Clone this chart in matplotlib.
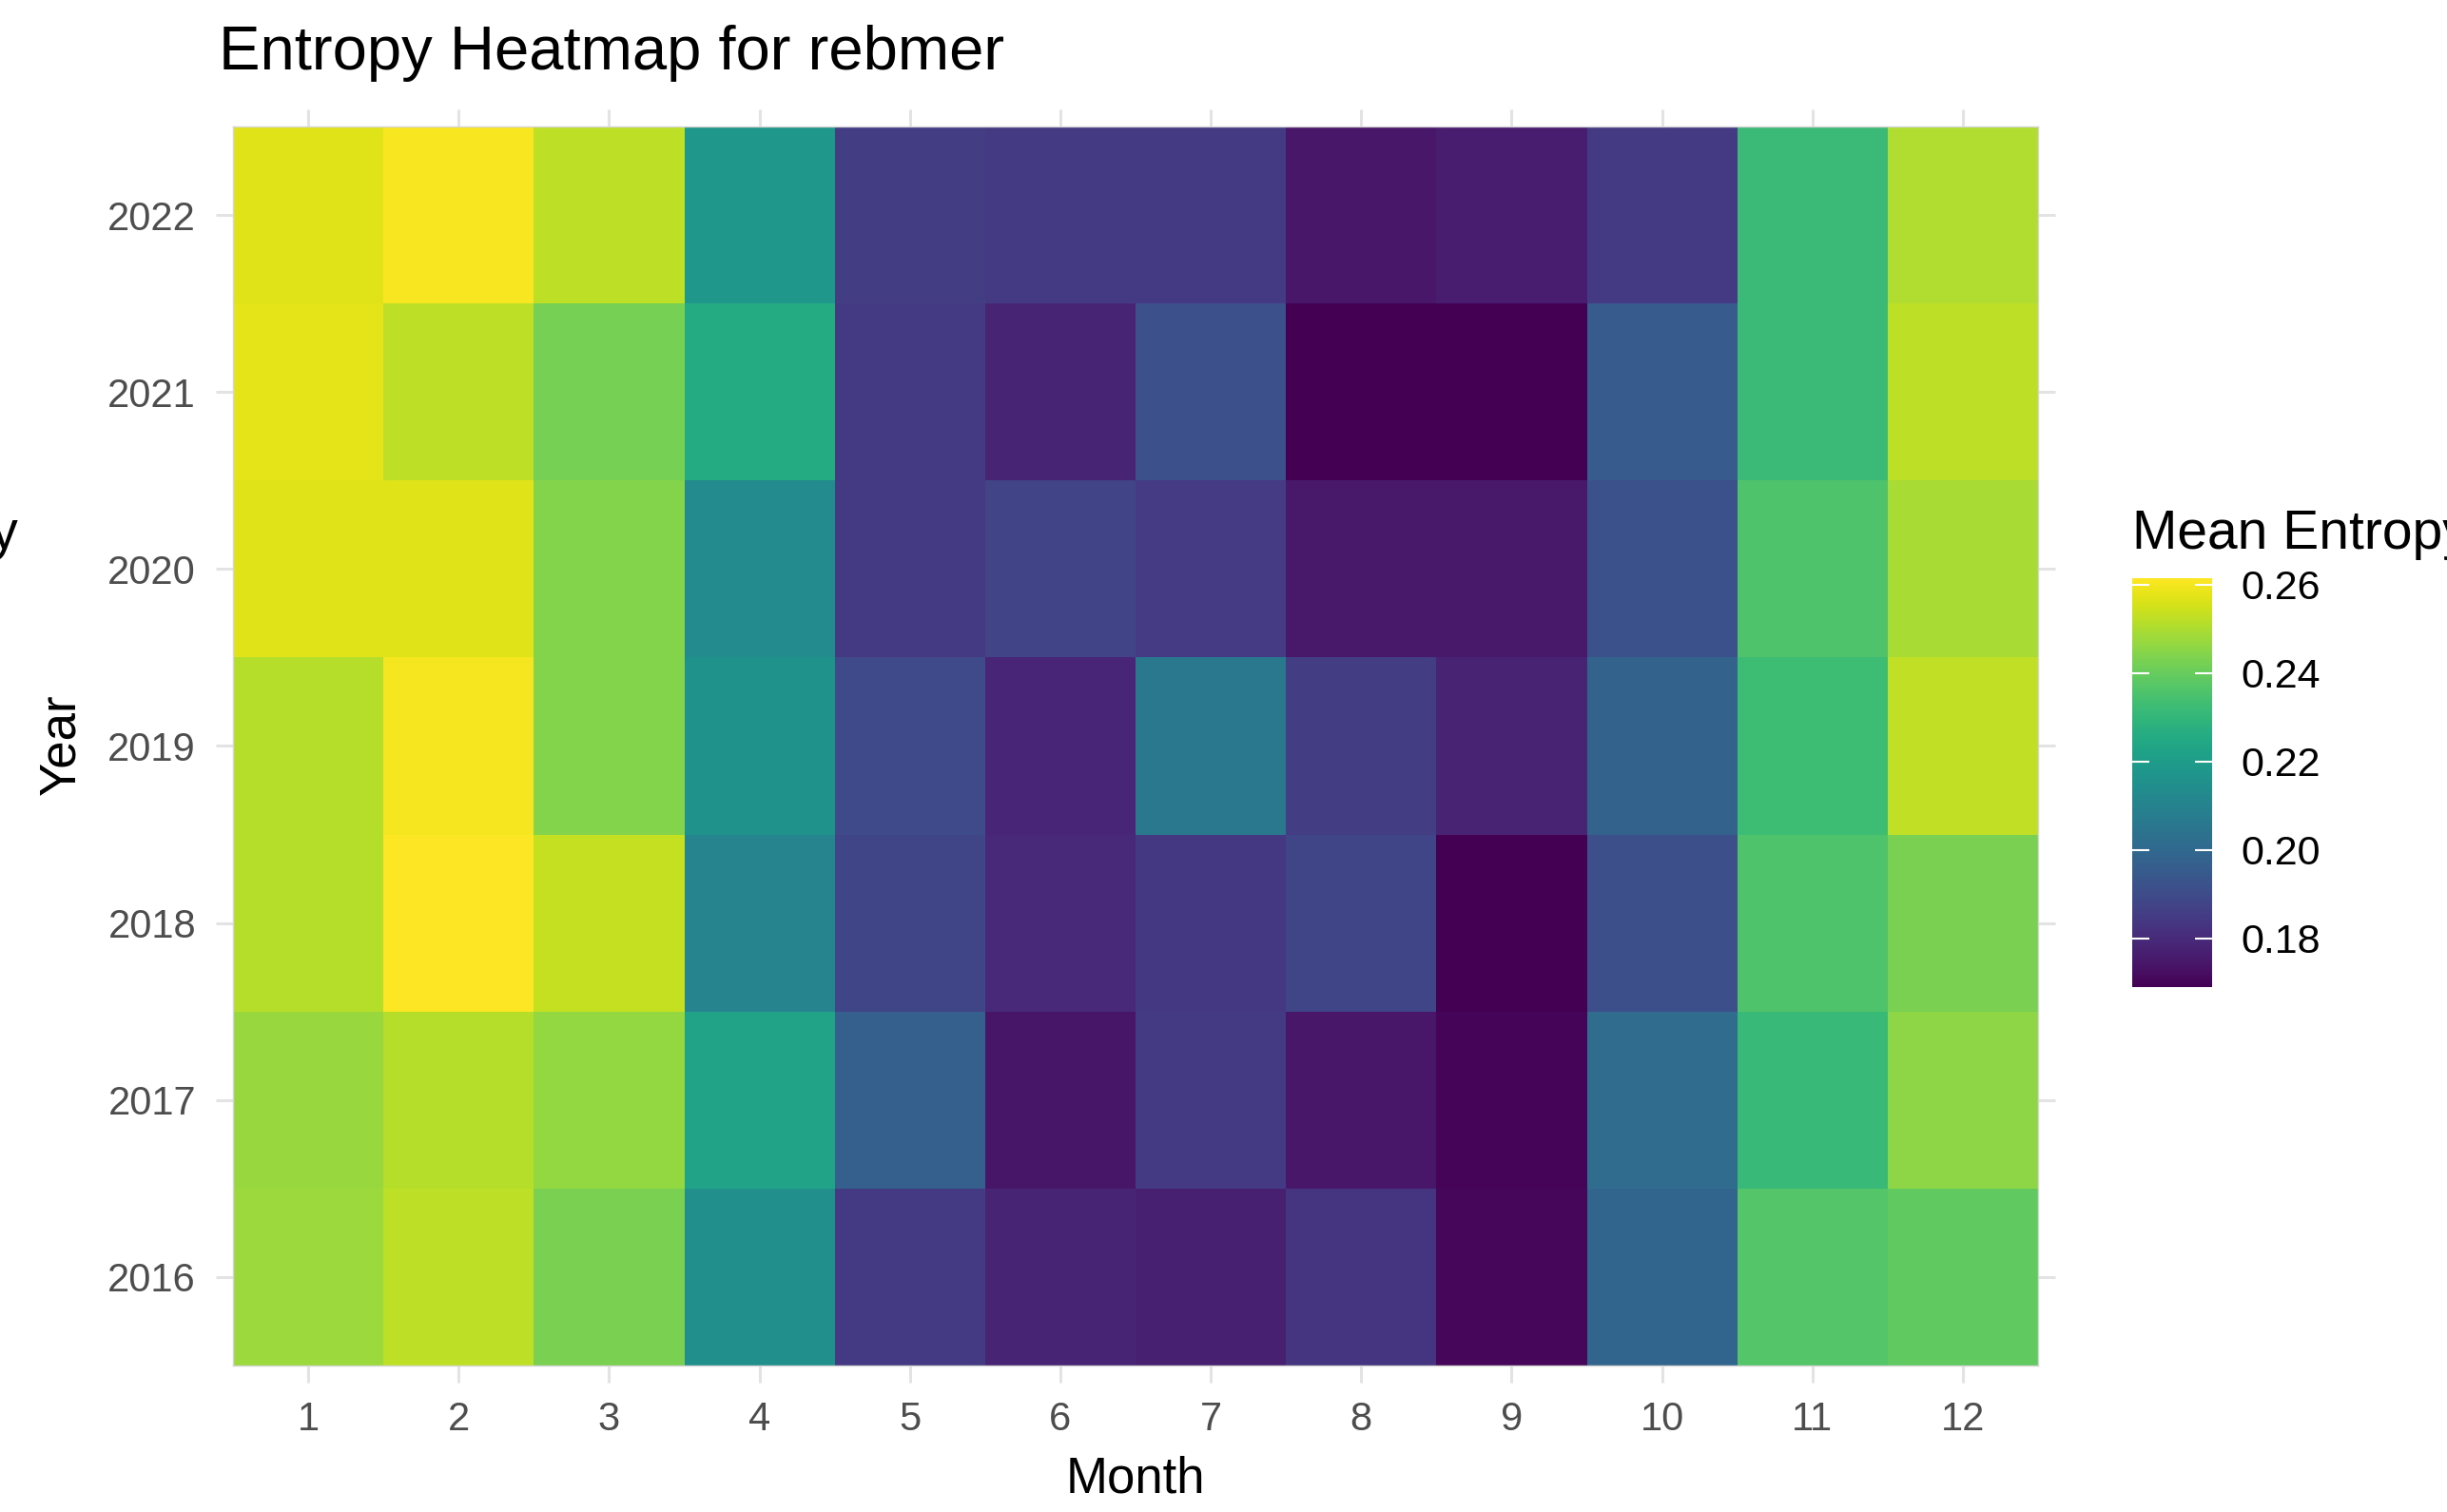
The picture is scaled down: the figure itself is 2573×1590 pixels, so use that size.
import matplotlib
matplotlib.use("Agg")
import matplotlib.pyplot as plt
import numpy as np

plt.rcParams["font.family"] = ["Liberation Sans", "DejaVu Sans"]

# Monthly mean entropy per year
months = list(range(1, 13))
years = [2016, 2017, 2018, 2019, 2020, 2021, 2022]

entropy_2016 = [0.2475, 0.2522, 0.2429, 0.2152, 0.1847, 0.1782, 0.1773, 0.1833, 0.1708, 0.1986, 0.2365, 0.2388]
entropy_2017 = [0.2471, 0.2512, 0.2466, 0.2226, 0.1967, 0.1741, 0.1847, 0.1745, 0.1699, 0.2013, 0.2314, 0.2457]
entropy_2018 = [0.2512, 0.2614, 0.2531, 0.2106, 0.1879, 0.1792, 0.1838, 0.1879, 0.1690, 0.1912, 0.2355, 0.2429]
entropy_2019 = [0.2512, 0.2600, 0.2443, 0.2157, 0.1898, 0.1787, 0.2060, 0.1856, 0.1778, 0.1976, 0.2323, 0.2526]
entropy_2020 = [0.2568, 0.2568, 0.2443, 0.2129, 0.1847, 0.1875, 0.1852, 0.1750, 0.1750, 0.1921, 0.2355, 0.2494]
entropy_2021 = [0.2577, 0.2522, 0.2420, 0.2254, 0.1847, 0.1782, 0.1916, 0.1690, 0.1690, 0.1953, 0.2318, 0.2522]
entropy_2022 = [0.2568, 0.2605, 0.2522, 0.2180, 0.1856, 0.1847, 0.1847, 0.1745, 0.1764, 0.1847, 0.2318, 0.2503]

cbar_ticks = [0.18, 0.20, 0.22, 0.24, 0.26]

grid = np.array([entropy_2016, entropy_2017, entropy_2018, entropy_2019,
                 entropy_2020, entropy_2021, entropy_2022])

W, H = 2573, 1590
fig = plt.figure(figsize=(W / 100, H / 100), dpi=100)
fig.patch.set_facecolor("white")

ax = fig.add_axes([245 / W, 1 - 1436 / H, 1898 / W, 1303 / H])
x_edges = np.arange(len(months) + 1) + 0.5
y_edges = np.arange(years[0], years[-1] + 2) - 0.5
mesh = ax.pcolormesh(x_edges, y_edges, grid, cmap="viridis",
                     vmin=grid.min(), vmax=grid.max())

ax.set_xlim(x_edges[0], x_edges[-1])
ax.set_ylim(y_edges[0], y_edges[-1])
ax.set_xticks(months)
ax.set_xticklabels([str(m) for m in months])
ax.set_yticks(years)
ax.set_yticklabels([str(y) for y in years])
ax.tick_params(axis="both", which="major", direction="out", length=13, width=2.2,
               color="#e3e3e3", labelcolor="#4d4d4d", labelsize=30,
               top=True, right=True, labeltop=False, labelright=False)
ax.tick_params(axis="x", pad=14)
ax.tick_params(axis="y", pad=15)
for sp in ax.spines.values():
    sp.set_color("#d6d6d6")
    sp.set_linewidth(1.0)

fig.text(230 / W, 1 - 73 / H, "Entropy Heatmap for rebmer", fontsize=47,
         ha="left", va="baseline", color="black")
fig.text(1194 / W, 1 - 1556 / H, "Month", fontsize=38, ha="center", va="center")
fig.text(64 / W, 1 - 783 / H, "Year", fontsize=38, ha="center", va="center",
         rotation=90)

# Colour bar
cax = fig.add_axes([2242 / W, 1 - 1038 / H, 84 / W, 430 / H])
cbar = fig.colorbar(mesh, cax=cax, ticks=cbar_ticks)
cbar.outline.set_visible(False)
cax.tick_params(direction="in", length=13, width=1.5, color="white",
                left=True, right=True, labelsize=31, labelcolor="black", pad=22)
cbar.set_ticklabels([f"{t:.2f}" for t in cbar_ticks])

fig.text(2242 / W, 1 - 577 / H, "Mean Entropy", fontsize=41, ha="left", va="baseline")
fig.text(19 / W, 1 - 577 / H, "Mean Entropy", fontsize=41, ha="right", va="baseline")

fig.savefig("out.png", dpi=100, facecolor="white")
